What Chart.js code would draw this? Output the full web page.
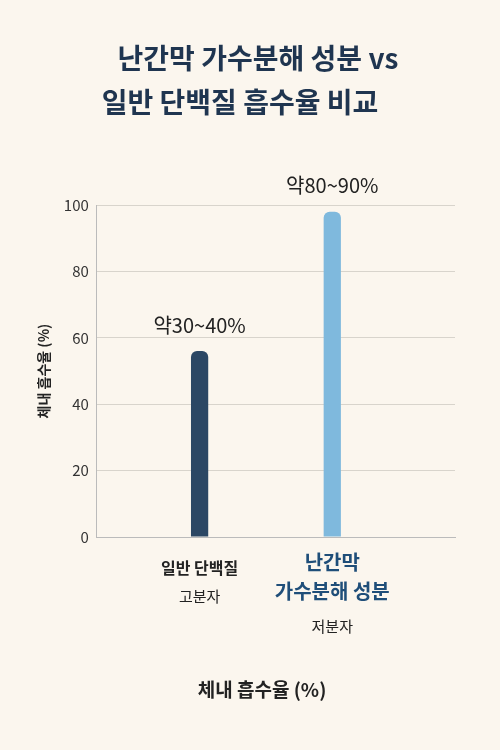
<!DOCTYPE html>
<html><head><meta charset="utf-8">
<script src="https://cdn.jsdelivr.net/npm/chart.js@4"></script>
<style>html,body{margin:0;background:#fbf6ee}</style>
</head><body>
<canvas id="c" width="500" height="750"></canvas>
<script>
// data
const categories = ['일반 단백질', '난간막 가수분해 성분'];
const values = [56, 98];
const rangeLabels = ['약30~40%', '약80~90%'];
const subLabels = ['고분자', '저분자'];
const yTicks = [0, 20, 40, 60, 80, 100];

const FONT = '"Noto Sans CJK KR", "Noto Sans", sans-serif';

const deco = {
  id: 'deco',
  afterDraw(chart) {
    const c = chart.ctx, x = chart.scales.x, y = chart.scales.y;
    c.save();
    c.textAlign = 'center';
    c.textBaseline = 'middle';
    // title
    c.fillStyle = '#1f3550';
    c.font = 'bold 28px ' + FONT;
    c.fillText('난간막 가수분해 성분 vs', 258, 58);
    c.fillText('일반 단백질 흡수율 비교', 240, 102);
    // value labels
    c.font = '20px ' + FONT;
    c.fillStyle = '#222';
    values.forEach((v, i) => {
      c.fillText(rangeLabels[i], x.getPixelForValue(i), y.getPixelForValue(v) - 26);
    });
    // category labels
    const x0 = x.getPixelForValue(0), x1 = x.getPixelForValue(1);
    c.fillStyle = '#222';
    c.font = 'bold 16px ' + FONT;
    c.fillText(categories[0], x0, 568);
    c.font = '15px ' + FONT;
    c.fillText(subLabels[0], x0, 596);
    c.fillStyle = '#1f4e79';
    c.font = 'bold 20px ' + FONT;
    c.fillText('난간막', x1, 562);
    c.fillText('가수분해 성분', x1, 591);
    c.fillStyle = '#222';
    c.font = '15px ' + FONT;
    c.fillText(subLabels[1], x1, 626);
    // x axis title
    c.font = 'bold 19px ' + FONT;
    c.fillText('체내 흡수율 (%)', 262, 690);
    c.restore();
  }
};

new Chart(document.getElementById('c'), {
  type: 'bar',
  data: {
    datasets: [{
      data: values.map((v, i) => ({ x: i, y: v })),
      backgroundColor: ['#2b4764', '#7fb9dd'],
      borderRadius: 6,
      borderSkipped: 'bottom',
      categoryPercentage: 0.65,
      barPercentage: 1
    }]
  },
  options: {
    responsive: false,
    animation: false,
    layout: { padding: { top: 205, bottom: 205, left: 31, right: 45 } },
    plugins: { legend: { display: false }, tooltip: { enabled: false } },
    scales: {
      x: {
        type: 'linear',
        min: -0.55, max: 1.7,
        ticks: { display: false },
        grid: { display: false },
        border: { color: '#bbb' }
      },
      y: {
        min: 0, max: 100,
        afterBuildTicks: s => { s.ticks = yTicks.map(v => ({ value: v })); },
        ticks: { color: '#333', font: { size: 15, family: FONT }, padding: 8 },
        grid: { color: '#d8d4cc', drawTicks: false },
        border: { display: true, color: '#bbb' },
        title: { display: true, text: '체내 흡수율 (%)', color: '#222', font: { size: 14, weight: 'bold', family: FONT } }
      }
    }
  },
  plugins: [deco]
});
</script>
</body></html>
